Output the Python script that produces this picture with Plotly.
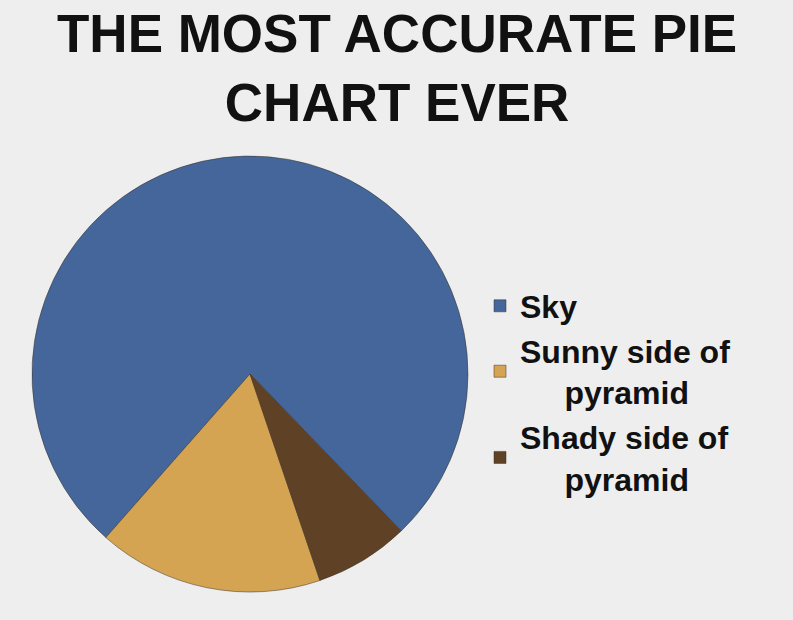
import plotly.graph_objects as go

nb = "\u00a0" * 5
labels = ["Sky", "Sunny side of<br>" + nb + "pyramid", "Shady side of<br>" + nb + "pyramid"]
values = [76.3, 16.7, 7.0]
colors = ["#44669A", "#D5A453", "#5F4126"]
title_text = "THE MOST ACCURATE PIE<br>CHART EVER"

W, H = 793, 620
cx, cy, r = 250, 374, 218

fig = go.Figure(go.Pie(
    labels=labels,
    values=values,
    sort=False,
    direction="counterclockwise",
    rotation=221.4,
    textinfo="none",
    hoverinfo="label+percent",
    marker=dict(colors=colors, line=dict(width=0.5, color="#3a3025")),
    domain=dict(x=[(cx - r) / W, (cx + r) / W], y=[(H - cy - r) / H, (H - cy + r) / H]),
))

fig.update_layout(
    width=W, height=H,
    margin=dict(l=0, r=0, t=0, b=0),
    paper_bgcolor="#EEEEEE",
    plot_bgcolor="#EEEEEE",
    showlegend=True,
    legend=dict(
        x=480 / W, xanchor="left",
        y=1 - 392 / H, yanchor="middle",
        font=dict(family="Liberation Sans, Arial, sans-serif", size=32, color="#111111", weight="bold"),
        bgcolor="rgba(0,0,0,0)",
    ),
    annotations=[dict(
        text=title_text, x=0.5, y=1 - 2 / H, xref="paper", yref="paper",
        xanchor="center", yanchor="top", showarrow=False,
        font=dict(family="Liberation Sans, Arial, sans-serif", size=53, color="#111111", weight="bold"),
    )],
)

fig.write_html("out.html", config={"displayModeBar": False},
               post_script="document.body.style.margin='0';")
